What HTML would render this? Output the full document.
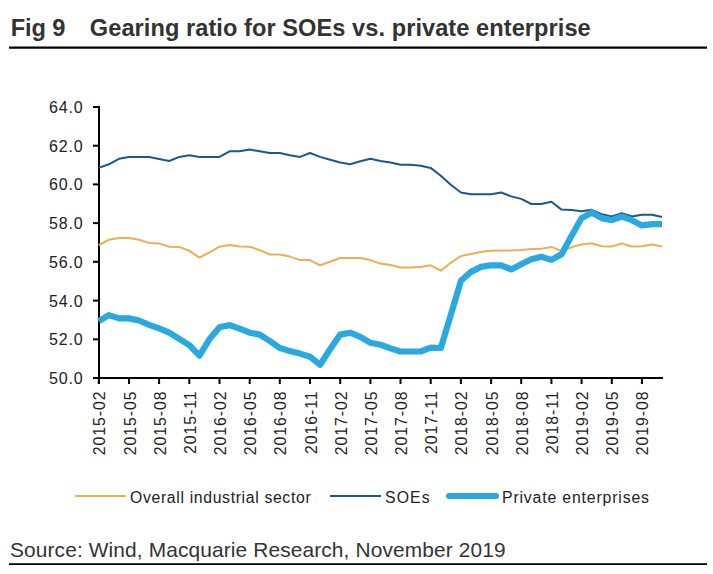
<!DOCTYPE html>
<html><head><meta charset="utf-8"><style>
html,body{margin:0;padding:0;background:#fff;}
body{width:713px;height:574px;overflow:hidden;position:relative;font-family:"Liberation Sans",sans-serif;}
svg{position:absolute;left:0;top:0;}
.t{font-weight:bold;font-size:23.6px;fill:#333;letter-spacing:0.1px;}
.yl{font-size:16px;fill:#222;letter-spacing:0.85px;}
.xl{font-size:15.8px;fill:#222;letter-spacing:0.95px;}
.lg{font-size:15.8px;fill:#222;letter-spacing:0.6px;}
.src{font-size:20.9px;fill:#333;letter-spacing:0.12px;}
</style></head><body>
<svg width="713" height="574" viewBox="0 0 713 574">
<rect width="713" height="574" fill="#fff"/>
<text x="10.7" y="36" class="t" style="letter-spacing:-0.1px">Fig 9</text>
<text x="89.8" y="36" class="t" style="letter-spacing:0.06px">Gearing ratio for SOEs vs. private enterprise</text>
<line x1="9" y1="47.7" x2="707" y2="47.7" stroke="#000" stroke-width="2.2"/>
<line x1="93" y1="378.0" x2="100" y2="378.0" stroke="#000" stroke-width="2"/>
<text x="83.6" y="383.9" text-anchor="end" class="yl">50.0</text>
<line x1="93" y1="339.3" x2="100" y2="339.3" stroke="#000" stroke-width="2"/>
<text x="83.6" y="345.2" text-anchor="end" class="yl">52.0</text>
<line x1="93" y1="300.6" x2="100" y2="300.6" stroke="#000" stroke-width="2"/>
<text x="83.6" y="306.5" text-anchor="end" class="yl">54.0</text>
<line x1="93" y1="261.8" x2="100" y2="261.8" stroke="#000" stroke-width="2"/>
<text x="83.6" y="267.7" text-anchor="end" class="yl">56.0</text>
<line x1="93" y1="223.1" x2="100" y2="223.1" stroke="#000" stroke-width="2"/>
<text x="83.6" y="229.0" text-anchor="end" class="yl">58.0</text>
<line x1="93" y1="184.4" x2="100" y2="184.4" stroke="#000" stroke-width="2"/>
<text x="83.6" y="190.3" text-anchor="end" class="yl">60.0</text>
<line x1="93" y1="145.7" x2="100" y2="145.7" stroke="#000" stroke-width="2"/>
<text x="83.6" y="151.6" text-anchor="end" class="yl">62.0</text>
<line x1="93" y1="107.0" x2="100" y2="107.0" stroke="#000" stroke-width="2"/>
<text x="83.6" y="112.9" text-anchor="end" class="yl">64.0</text>
<line x1="98.8" y1="378" x2="98.8" y2="384" stroke="#000" stroke-width="2"/>
<text transform="translate(105.3,390.5) rotate(-90)" text-anchor="end" class="xl">2015-02</text>
<line x1="129.0" y1="378" x2="129.0" y2="384" stroke="#000" stroke-width="2"/>
<text transform="translate(135.5,390.5) rotate(-90)" text-anchor="end" class="xl">2015-05</text>
<line x1="159.1" y1="378" x2="159.1" y2="384" stroke="#000" stroke-width="2"/>
<text transform="translate(165.6,390.5) rotate(-90)" text-anchor="end" class="xl">2015-08</text>
<line x1="189.3" y1="378" x2="189.3" y2="384" stroke="#000" stroke-width="2"/>
<text transform="translate(195.8,390.5) rotate(-90)" text-anchor="end" class="xl">2015-11</text>
<line x1="219.5" y1="378" x2="219.5" y2="384" stroke="#000" stroke-width="2"/>
<text transform="translate(226.0,390.5) rotate(-90)" text-anchor="end" class="xl">2016-02</text>
<line x1="249.7" y1="378" x2="249.7" y2="384" stroke="#000" stroke-width="2"/>
<text transform="translate(256.2,390.5) rotate(-90)" text-anchor="end" class="xl">2016-05</text>
<line x1="279.8" y1="378" x2="279.8" y2="384" stroke="#000" stroke-width="2"/>
<text transform="translate(286.3,390.5) rotate(-90)" text-anchor="end" class="xl">2016-08</text>
<line x1="310.0" y1="378" x2="310.0" y2="384" stroke="#000" stroke-width="2"/>
<text transform="translate(316.5,390.5) rotate(-90)" text-anchor="end" class="xl">2016-11</text>
<line x1="340.2" y1="378" x2="340.2" y2="384" stroke="#000" stroke-width="2"/>
<text transform="translate(346.7,390.5) rotate(-90)" text-anchor="end" class="xl">2017-02</text>
<line x1="370.4" y1="378" x2="370.4" y2="384" stroke="#000" stroke-width="2"/>
<text transform="translate(376.9,390.5) rotate(-90)" text-anchor="end" class="xl">2017-05</text>
<line x1="400.5" y1="378" x2="400.5" y2="384" stroke="#000" stroke-width="2"/>
<text transform="translate(407.0,390.5) rotate(-90)" text-anchor="end" class="xl">2017-08</text>
<line x1="430.7" y1="378" x2="430.7" y2="384" stroke="#000" stroke-width="2"/>
<text transform="translate(437.2,390.5) rotate(-90)" text-anchor="end" class="xl">2017-11</text>
<line x1="460.9" y1="378" x2="460.9" y2="384" stroke="#000" stroke-width="2"/>
<text transform="translate(467.4,390.5) rotate(-90)" text-anchor="end" class="xl">2018-02</text>
<line x1="491.1" y1="378" x2="491.1" y2="384" stroke="#000" stroke-width="2"/>
<text transform="translate(497.6,390.5) rotate(-90)" text-anchor="end" class="xl">2018-05</text>
<line x1="521.2" y1="378" x2="521.2" y2="384" stroke="#000" stroke-width="2"/>
<text transform="translate(527.7,390.5) rotate(-90)" text-anchor="end" class="xl">2018-08</text>
<line x1="551.4" y1="378" x2="551.4" y2="384" stroke="#000" stroke-width="2"/>
<text transform="translate(557.9,390.5) rotate(-90)" text-anchor="end" class="xl">2018-11</text>
<line x1="581.6" y1="378" x2="581.6" y2="384" stroke="#000" stroke-width="2"/>
<text transform="translate(588.1,390.5) rotate(-90)" text-anchor="end" class="xl">2019-02</text>
<line x1="611.8" y1="378" x2="611.8" y2="384" stroke="#000" stroke-width="2"/>
<text transform="translate(618.3,390.5) rotate(-90)" text-anchor="end" class="xl">2019-05</text>
<line x1="641.9" y1="378" x2="641.9" y2="384" stroke="#000" stroke-width="2"/>
<text transform="translate(648.4,390.5) rotate(-90)" text-anchor="end" class="xl">2019-08</text>
<line x1="99" y1="106" x2="99" y2="384" stroke="#000" stroke-width="2"/><line x1="93" y1="378" x2="663" y2="378" stroke="#000" stroke-width="2"/>
<polyline points="98.8,245.0 108.9,239.8 118.9,238.0 129.0,238.0 139.0,239.8 149.1,242.9 159.1,243.4 169.2,246.7 179.3,246.9 189.3,250.8 199.4,257.6 209.4,252.4 219.5,246.7 229.6,245.0 239.6,246.5 249.7,246.7 259.7,250.2 269.8,254.5 279.8,254.5 289.9,256.6 300.0,260.1 310.0,260.1 320.1,265.3 330.1,261.8 340.2,258.0 350.2,258.0 360.3,258.0 370.4,260.1 380.4,263.6 390.5,264.9 400.5,267.5 410.6,267.6 420.7,267.1 430.7,265.3 440.8,270.7 450.8,262.8 460.9,256.0 470.9,254.1 481.0,252.0 491.1,250.8 501.1,250.6 511.2,250.6 521.2,250.0 531.3,248.9 541.4,248.7 551.4,246.9 561.5,251.2 571.5,247.3 581.6,244.4 591.6,243.3 601.7,246.2 611.8,246.5 621.8,243.4 631.9,246.5 641.9,246.2 652.0,244.4 662.0,246.5" fill="none" stroke="#F0AD52" stroke-width="2" stroke-linejoin="round"/><polyline points="98.8,167.9 108.9,164.3 118.9,158.8 129.0,156.9 139.0,156.9 149.1,156.9 159.1,159.0 169.2,161.0 179.3,156.9 189.3,155.2 199.4,156.9 209.4,156.9 219.5,156.9 229.6,151.3 239.6,151.3 249.7,149.6 259.7,151.3 269.8,153.0 279.8,153.0 289.9,155.2 300.0,156.9 310.0,153.0 320.1,156.9 330.1,159.8 340.2,162.5 350.2,164.3 360.3,161.2 370.4,158.8 380.4,161.0 390.5,162.5 400.5,164.7 410.6,164.7 420.7,165.8 430.7,167.9 440.8,175.7 450.8,184.8 460.9,192.5 470.9,194.3 481.0,194.3 491.1,194.3 501.1,192.5 511.2,196.4 521.2,198.9 531.3,204.0 541.4,204.0 551.4,201.8 561.5,209.6 571.5,210.1 581.6,211.3 591.6,209.8 601.7,214.2 611.8,216.5 621.8,213.1 631.9,216.5 641.9,214.8 652.0,214.8 662.0,216.9" fill="none" stroke="#1A5894" stroke-width="2" stroke-linejoin="round"/><polyline points="98.8,321.1 108.9,315.1 118.9,318.4 129.0,318.4 139.0,320.5 149.1,324.8 159.1,328.4 169.2,332.7 179.3,338.9 189.3,345.1 199.4,355.7 209.4,339.3 219.5,327.3 229.6,325.1 239.6,328.6 249.7,332.7 259.7,334.6 269.8,341.0 279.8,348.0 289.9,351.1 300.0,353.6 310.0,356.7 320.1,364.8 330.1,349.3 340.2,334.6 350.2,332.7 360.3,336.8 370.4,342.8 380.4,344.7 390.5,348.4 400.5,351.5 410.6,351.5 420.7,351.5 430.7,347.6 440.8,348.0 450.8,314.9 460.9,280.8 470.9,271.9 481.0,266.9 491.1,265.3 501.1,265.3 511.2,269.4 521.2,264.2 531.3,259.3 541.4,256.8 551.4,259.9 561.5,254.3 571.5,236.1 581.6,218.1 591.6,212.5 601.7,218.1 611.8,220.2 621.8,216.5 631.9,220.2 641.9,225.4 652.0,224.1 662.0,224.1" fill="none" stroke="#29A9E0" stroke-width="6.2" stroke-linejoin="round"/>
<line x1="75" y1="496" x2="126" y2="496" stroke="#F0AD52" stroke-width="2"/><text x="130" y="502.6" class="lg" style="letter-spacing:0.65px">Overall industrial sector</text><line x1="330" y1="496" x2="381" y2="496" stroke="#1A5894" stroke-width="2"/><text x="385" y="502.6" class="lg" style="letter-spacing:1.1px">SOEs</text><line x1="449" y1="496" x2="496" y2="496" stroke="#29A9E0" stroke-width="6" stroke-linecap="round"/><text x="502" y="502.6" class="lg" style="letter-spacing:0.85px">Private enterprises</text>
<text x="10" y="557" class="src">Source: Wind, Macquarie Research, November 2019</text>
<line x1="9" y1="564.2" x2="707" y2="564.2" stroke="#000" stroke-width="1.7"/>
</svg>
</body></html>
